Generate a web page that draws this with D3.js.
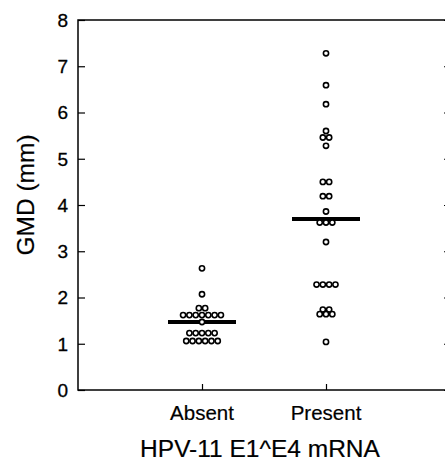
<!DOCTYPE html>
<html>
<head>
<meta charset="utf-8">
<script src="https://cdn.jsdelivr.net/npm/d3@7"></script>
<style>
  html, body { margin: 0; padding: 0; background: #fff; }
  svg { display: block; font-family: "Liberation Sans", Arial, Helvetica, sans-serif; }
</style>
</head>
<body>
<svg id="chart" width="445" height="461"></svg>
<script>
// ---- data ----
const categories = ["Absent", "Present"];
const absentValues = [2.63, 2.07, 1.77, 1.77, 1.62, 1.62, 1.62, 1.62, 1.62, 1.62, 1.62, 1.47,
  1.23, 1.23, 1.23, 1.23, 1.23, 1.06, 1.06, 1.06, 1.06, 1.06, 1.06];
const presentValues = [7.28, 6.59, 6.18, 5.6, 5.46, 5.46, 5.28, 4.5, 4.5, 4.19, 4.19, 3.86,
  3.62, 3.62, 3.62, 3.2, 2.28, 2.28, 2.28, 2.28, 1.74, 1.74, 1.64, 1.64, 1.64, 1.04];
const medianValues = [1.47, 3.7];
const yTicks = [0, 1, 2, 3, 4, 5, 6, 7, 8];
const yTitle = "GMD (mm)";
const xTitle = "HPV-11 E1^E4 mRNA";

// ---- layout ----
const svg = d3.select("#chart");
const plotL = 78, plotR = 451, plotT = 20, plotB = 390;

const y = d3.scaleLinear().domain([0, 8]).range([plotB, plotT]);
const x = d3.scalePoint().domain(categories).range([202, 326]);

const g = svg.append("g");

// frame
g.append("rect")
  .attr("x", plotL).attr("y", plotT)
  .attr("width", plotR - plotL).attr("height", plotB - plotT)
  .attr("fill", "none").attr("stroke", "#000").attr("stroke-width", 1.5);

// left axis (inward ticks)
const yAxis = d3.axisRight(y).tickValues(yTicks).tickSize(7).tickFormat("");
const ya = g.append("g").attr("transform", `translate(${plotL},0)`).call(yAxis);
ya.select(".domain").remove();
ya.selectAll("line").attr("stroke", "#000").attr("stroke-width", 1.2);

// right axis (inward ticks)
const yAxisR = d3.axisLeft(y).tickValues(yTicks).tickSize(7).tickFormat("");
const yr = g.append("g").attr("transform", `translate(${plotR},0)`).call(yAxisR);
yr.select(".domain").remove();
yr.selectAll("line").attr("stroke", "#000").attr("stroke-width", 1);

// tick labels
g.selectAll("text.ytick").data(yTicks).join("text")
  .attr("class", "ytick")
  .attr("x", plotL - 10).attr("y", d => y(d))
  .attr("dy", "0.36em")
  .attr("text-anchor", "end")
  .attr("font-size", 19)
  .attr("stroke", "#000").attr("stroke-width", 0.3)
  .text(d => d);

// bottom axis (inward ticks)
const xAxis = d3.axisTop(x).tickSize(6).tickFormat("");
const xa = g.append("g").attr("transform", `translate(0,${plotB})`).call(xAxis);
xa.select(".domain").remove();
xa.selectAll("line").attr("stroke", "#000").attr("stroke-width", 1.2);

g.selectAll("text.xtick").data(categories).join("text")
  .attr("class", "xtick")
  .attr("x", d => x(d)).attr("y", 420)
  .attr("text-anchor", "middle")
  .attr("font-size", 20.5)
  .attr("stroke", "#000").attr("stroke-width", 0.2)
  .text(d => d);

// axis titles
g.append("text")
  .attr("transform", `translate(34,195) rotate(-90)`)
  .attr("text-anchor", "middle")
  .attr("font-size", 24.5)
  .attr("stroke", "#000").attr("stroke-width", 0.2)
  .text(yTitle);

g.append("text")
  .attr("x", 260).attr("y", 457)
  .attr("text-anchor", "middle")
  .attr("font-size", 24.5)
  .attr("stroke", "#000").attr("stroke-width", 0.2)
  .text(xTitle);

// dots: group identical values into rows
const spacing = 6.3;
function layout(values, cat) {
  const pts = [];
  const groups = d3.rollups(values, v => v.length, d => d);
  groups.forEach(([val, n]) => {
    for (let i = 0; i < n; i++) {
      pts.push({ cx: x(cat) + (i - (n - 1) / 2) * spacing, cy: y(val) });
    }
  });
  return pts;
}
const allPts = layout(absentValues, "Absent").concat(layout(presentValues, "Present"));

// median bars
g.selectAll("line.median").data(categories).join("line")
  .attr("class", "median")
  .attr("x1", d => x(d) - 34).attr("x2", d => x(d) + 34)
  .attr("y1", (d, i) => y(medianValues[i])).attr("y2", (d, i) => y(medianValues[i]))
  .attr("stroke", "#000").attr("stroke-width", 4);

g.selectAll("circle.dot").data(allPts).join("circle")
  .attr("class", "dot")
  .attr("cx", d => d.cx).attr("cy", d => d.cy)
  .attr("r", 2.6)
  .attr("fill", "#fff").attr("stroke", "#000").attr("stroke-width", 1.6);
</script>
</body>
</html>
